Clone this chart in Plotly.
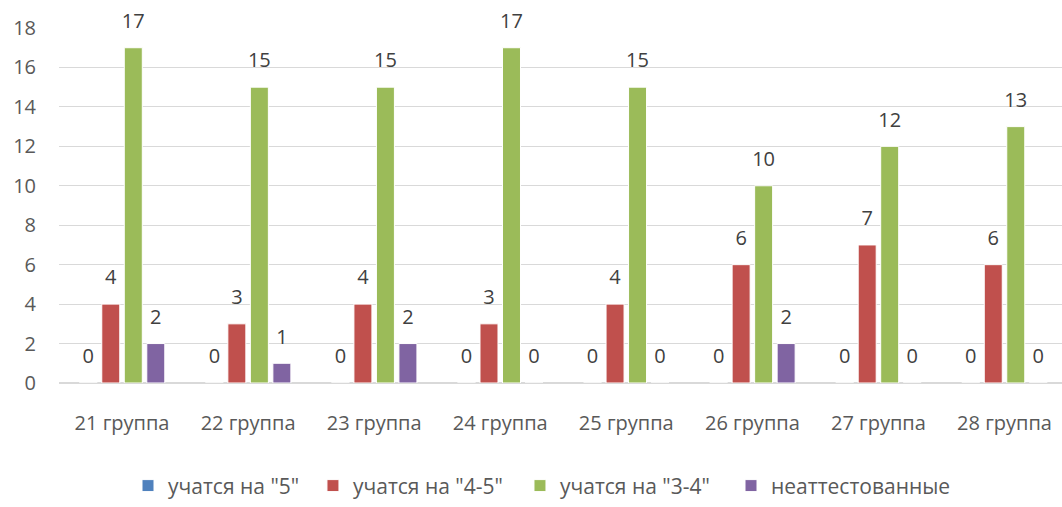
import plotly.graph_objects as go

groups = ["21 группа", "22 группа", "23 группа", "24 группа",
          "25 группа", "26 группа", "27 группа", "28 группа"]
series_names = ['учатся на "5"', 'учатся на "4-5"', 'учатся на "3-4"', 'неаттестованные']
s5 = [0, 0, 0, 0, 0, 0, 0, 0]
s45 = [4, 3, 4, 3, 4, 6, 7, 6]
s34 = [17, 15, 15, 17, 15, 10, 12, 13]
sna = [2, 1, 2, 0, 0, 2, 0, 0]
colors = ["#4F81BD", "#C0504D", "#9BBB59", "#8064A2"]
y_ticks = list(range(0, 19, 2))

FONT = "Open Sans"
GAP = 0.286
legend_ids = ["legend", "legend2", "legend3", "legend4"]
legend_x = [0.0688, 0.2532, 0.4596, 0.67]

fig = go.Figure()
for i, (name, vals, col) in enumerate(zip(series_names, [s5, s45, s34, sna], colors)):
    fig.add_trace(go.Bar(
        x=groups, y=vals, name=name,
        marker=dict(color=col, line=dict(color="white", width=1)),
        offsetgroup=str(i), legend=legend_ids[i],
    ))
# data labels, grouped like the bars
for i, vals in enumerate([s5, s45, s34, sna]):
    fig.add_trace(go.Scatter(
        x=groups, y=vals, mode="markers+text",
        text=[str(v) for v in vals], textposition="top center",
        textfont=dict(size=20, color="#404040", family=FONT),
        marker=dict(size=22, opacity=0),
        offsetgroup=str(i), showlegend=False, hoverinfo="skip",
        cliponaxis=False,
    ))

legend_common = dict(orientation="h", xanchor="left", y=-0.29, yanchor="middle",
                     font=dict(size=21, color="#595959"), itemwidth=30,
                     bgcolor="rgba(0,0,0,0)", borderwidth=0)
legends = {lid: dict(x=lx, **legend_common) for lid, lx in zip(legend_ids, legend_x)}

fig.update_layout(
    width=1062, height=507,
    barmode="group", bargap=GAP, bargroupgap=0.2,
    scattermode="group", scattergap=GAP,
    plot_bgcolor="white", paper_bgcolor="white",
    margin=dict(l=59, r=0, t=28, b=113),
    font=dict(family=FONT, color="#595959", size=20),
    xaxis=dict(showline=False, ticks="", automargin=False, range=[-0.5, 7.456],
               tickfont=dict(size=20, color="#595959"), ticklabelstandoff=26),
    yaxis=dict(range=[0, 18], tickvals=y_ticks, showgrid=True, gridcolor="#D9D9D9",
               gridwidth=1, zeroline=True, zerolinecolor="#D9D9D9", showline=False,
               ticks="", automargin=False,
               tickfont=dict(size=20, color="#595959"), ticklabelstandoff=22),
    showlegend=True,
    **legends,
)
fig.write_html("out.html", config={"displayModeBar": False},
               post_script="document.body.style.margin='0';")
